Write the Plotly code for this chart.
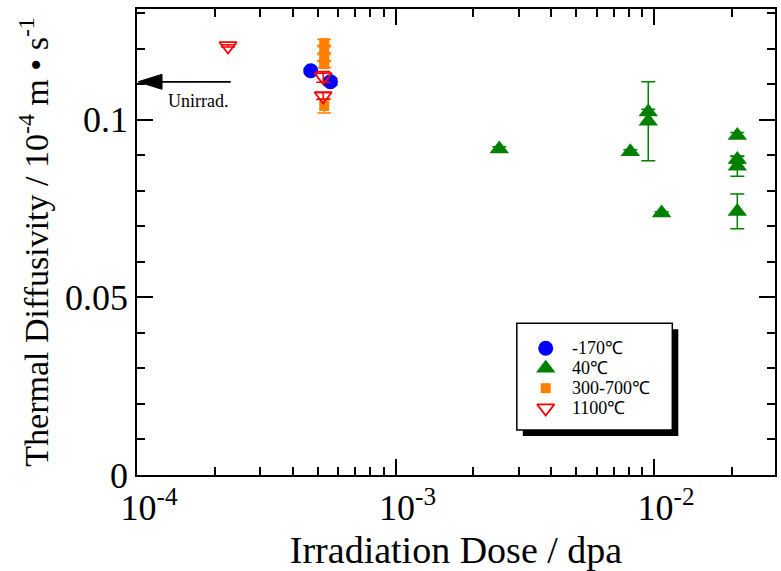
import plotly.graph_objects as go

# Irradiation dose (dpa), thermal diffusivity (10^-4 m^2/s) and error for each irradiation temperature
dose_m170 = [4.7e-4, 5.6e-4]
diff_m170 = [0.1138, 0.1107]
err_m170 = [0.0005, 0.0010]

dose_40 = [2.52e-3, 8.1e-3, 9.5e-3, 9.5e-3, 1.07e-2, 2.1e-2, 2.1e-2, 2.1e-2, 2.1e-2]
diff_40 = [0.0918, 0.0910, 0.1022, 0.0996, 0.0738, 0.0956, 0.0888, 0.0869, 0.0742]
err_40 = [0.0006, 0.0006, 0.0008, 0.0111, 0.0003, 0.0008, 0.0010, 0.0028, 0.0049]

dose_300 = [5.3e-4, 5.3e-4, 5.3e-4, 5.3e-4, 5.3e-4]
diff_300 = [0.1216, 0.1199, 0.1174, 0.1157, 0.1039]
err_300 = [0.0010, 0.0010, 0.0010, 0.0010, 0.0020]

dose_1100 = [2.25e-4, 5.25e-4, 5.25e-4]
diff_1100 = [0.1208, 0.1121, 0.1067]
err_1100 = [0.0003, 0.0015, 0.0010]

unirr_value = 0.1107

x_tick_vals = [1e-4, 1e-3, 1e-2]
x_tick_text = ["10<sup>-4</sup>", "10<sup>-3</sup>", "10<sup>-2</sup>"]
y_tick_vals = [0, 0.05, 0.1]
y_tick_text = ["0", "0.05", "0.1"]

FONT = "Liberation Serif, Times New Roman, serif"

# plot frame in pixels: left 137, right 777, top 9, bottom 476
def px_x(p):
    return (p - 137) / 640

def px_y(p):
    return (476 - p) / 467

series = [
    dict(x=dose_m170, y=diff_m170, err=err_m170, name="-170℃", color="#0000ff",
         symbol="circle", size=15, lw=0),
    dict(x=dose_40, y=diff_40, err=err_40, name="40℃", color="#008000",
         symbol="triangle-up", size=17, lw=0),
    dict(x=dose_300, y=diff_300, err=err_300, name="300-700℃", color="#ff8000",
         symbol="square", size=10, lw=0),
    dict(x=dose_1100, y=diff_1100, err=err_1100, name="1100℃", color="#ff0000",
         symbol="triangle-down-open", size=15, lw=1.8),
]

fig = go.Figure()

for s in series:
    fig.add_trace(go.Scatter(
        x=s["x"], y=s["y"], mode="markers", name=s["name"], showlegend=False,
        marker=dict(symbol=s["symbol"], size=s["size"], color=s["color"],
                    line=dict(width=s["lw"], color=s["color"])),
        error_y=dict(type="data", array=s["err"], visible=True, color=s["color"],
                     thickness=1.5, width=7),
    ))

# Legend frame with drop shadow (drawn beneath the key markers)
fig.add_shape(type="rect", xref="paper", yref="paper",
              x0=px_x(524), x1=px_x(680), y0=px_y(437), y1=px_y(330),
              fillcolor="black", line=dict(width=0), layer="below")
fig.add_shape(type="rect", xref="paper", yref="paper",
              x0=px_x(518), x1=px_x(674), y0=px_y(431), y1=px_y(324),
              fillcolor="white", line=dict(width=1.5, color="black"), layer="below")

# Legend keys on an overlay axis spanning the plot frame
key_rows = [349, 369, 389, 409]
for s, row in zip(series, key_rows):
    fig.add_trace(go.Scatter(
        x=[px_x(547)], y=[px_y(row)], xaxis="x2", yaxis="y2", mode="markers",
        showlegend=False, hoverinfo="skip",
        marker=dict(symbol=s["symbol"], size=s["size"], color=s["color"],
                    line=dict(width=s["lw"], color=s["color"])),
    ))
    fig.add_annotation(x=px_x(571), y=px_y(row), xref="paper", yref="paper",
                       xanchor="left", yanchor="middle", text=s["name"],
                       showarrow=False,
                       font=dict(family=FONT, size=18, color="black"))

# Unirradiated reference value: arrow pointing at the y axis
fig.add_shape(type="line", xref="paper", yref="y",
              x0=px_x(158), x1=px_x(231), y0=unirr_value, y1=unirr_value,
              line=dict(color="black", width=1.8))
fig.add_shape(type="path", xref="paper", yref="y",
              xsizemode="pixel", ysizemode="pixel", xanchor=0, yanchor=unirr_value,
              path="M 1 0 L 25 7.5 L 25 -7.5 Z",
              fillcolor="black", line=dict(color="black", width=1))
fig.add_annotation(x=px_x(198), y=px_y(101), xref="paper", yref="paper",
                   xanchor="center", yanchor="middle",
                   text="Unirrad.", showarrow=False,
                   font=dict(family=FONT, size=18, color="black"))

axis_common = dict(showline=True, linecolor="black", linewidth=1.8, mirror="allticks",
                   ticks="inside", tickcolor="black", tickwidth=1.5, ticklen=16,
                   showgrid=False, zeroline=False,
                   tickfont=dict(family=FONT, size=36, color="black"))

minor_x = [m * 10.0 ** e for e in (-4, -3, -2) for m in range(2, 10) if m * 10.0 ** e < 0.029]

fig.update_xaxes(type="log", range=[-4, -1.532], tickmode="array",
                 tickvals=x_tick_vals, ticktext=x_tick_text, ticklabelshift=12,
                 minor=dict(tickmode="array", tickvals=minor_x, ticks="inside",
                            ticklen=8, tickwidth=1.5, tickcolor="black"),
                 title=dict(text="Irradiation Dose / dpa", standoff=12,
                            font=dict(family=FONT, size=38, color="black")),
                 **axis_common)
fig.update_yaxes(range=[0, 0.1312], tickmode="array",
                 tickvals=y_tick_vals, ticktext=y_tick_text,
                 minor=dict(tickmode="array", tickvals=[i / 100 for i in range(1, 14)],
                            ticks="inside", ticklen=8, tickwidth=1.5, tickcolor="black"),
                 title=dict(text="Thermal Diffusivity / 10<sup>-4</sup> m • s<sup>-1</sup>",
                            standoff=6,
                            font=dict(family=FONT, size=34, color="black")),
                 **axis_common)

fig.update_layout(
    width=781, height=571,
    margin=dict(l=137, r=4, t=9, b=95),
    paper_bgcolor="white", plot_bgcolor="white",
    showlegend=False,
    xaxis2=dict(overlaying="x", range=[0, 1], visible=False, domain=[0, 1]),
    yaxis2=dict(overlaying="y", range=[0, 1], visible=False, domain=[0, 1]),
)

fig.write_html("out.html")
